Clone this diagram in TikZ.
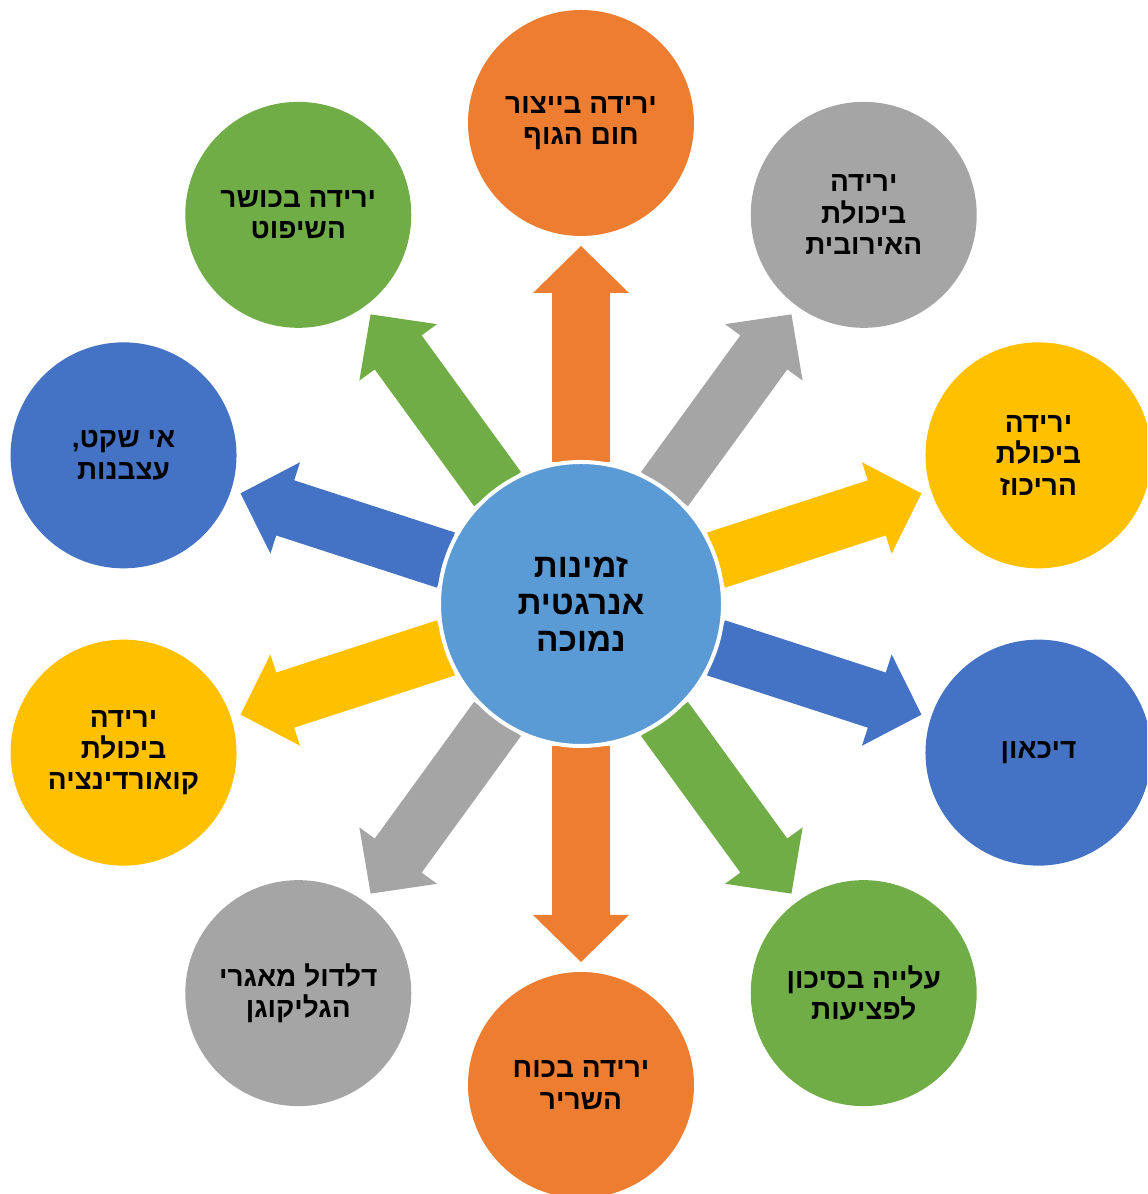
\documentclass[tikz,border=0pt]{standalone}
\usepackage{fontspec}
\newfontfamily\hebfont[Script=Hebrew]{Liberation Sans}
\TeXXeTstate=1
\newcommand\hebline[1]{\beginR #1\endR}
\definecolor{accorange}{HTML}{ED7D31}
\definecolor{accgray}{HTML}{A5A5A5}
\definecolor{accgold}{HTML}{FFC000}
\definecolor{accblue}{HTML}{4472C4}
\definecolor{accgreen}{HTML}{70AD47}
\definecolor{hubblue}{HTML}{5B9BD5}
\begin{document}
\begin{tikzpicture}[x=0.75pt,y=0.75pt,
  hub/.style={circle, fill=hubblue, draw=white, line width=3pt,
    minimum size=213pt, inner sep=0pt, align=center,
    font=\hebfont\bfseries\fontsize{25}{27.75}\selectfont},
  leaf/.style={circle, minimum size=169.5pt, inner sep=0pt, align=center,
    font=\hebfont\bfseries\fontsize{21}{23.5}\selectfont}]
\useasboundingbox (0,0) rectangle (1147,1194);
\clip (0,0) rectangle (1147,1194);
\coordinate (c) at (581,590);

% block arrows radiating from the hub
\foreach \ang/\col in {90/accorange, 54/accgray, 18/accgold, -18/accblue,
    -54/accgreen, -90/accorange, -126/accgray, -162/accgold, 162/accblue, 126/accgreen} {
  \begin{scope}[shift={(c)}, rotate=\ang]
    \fill[\col] (142,-29) -- (311,-29) -- (311,-48) -- (358,0)
      -- (311,48) -- (311,29) -- (142,29) -- cycle;
  \end{scope}
}

\node[hub] (hub) at (c) {\hebline{זמינות}\\\hebline{אנרגטית}\\\hebline{נמוכה}};

\path (c) ++(90:481) node[leaf, fill=accorange] (heat)
  {\hebline{ירידה בייצור}\\\hebline{חום הגוף}};
\path (c) ++(54:481) node[leaf, fill=accgray] (aerobic)
  {\hebline{ירידה}\\\hebline{ביכולת}\\\hebline{האירובית}};
\path (c) ++(18:481) node[leaf, fill=accgold] (focus)
  {\hebline{ירידה}\\\hebline{ביכולת}\\\hebline{הריכוז}};
\path (c) ++(-18:481) node[leaf, fill=accblue] (depress)
  {\hebline{דיכאון}};
\path (c) ++(-54:481) node[leaf, fill=accgreen] (injury)
  {\hebline{עלייה בסיכון}\\\hebline{לפציעות}};
\path (c) ++(-90:481) node[leaf, fill=accorange] (muscle)
  {\hebline{ירידה בכוח}\\\hebline{השריר}};
\path (c) ++(-126:481) node[leaf, fill=accgray] (glyco)
  {\hebline{דלדול מאגרי}\\\hebline{הגליקוגן}};
\path (c) ++(-162:481) node[leaf, fill=accgold] (coord)
  {\hebline{ירידה}\\\hebline{ביכולת}\\\hebline{קואורדינציה}};
\path (c) ++(162:481) node[leaf, fill=accblue] (restless)
  {\hebline{אי שקט,}\\\hebline{עצבנות}};
\path (c) ++(126:481) node[leaf, fill=accgreen] (judge)
  {\hebline{ירידה בכושר}\\\hebline{השיפוט}};
\end{tikzpicture}
\end{document}
